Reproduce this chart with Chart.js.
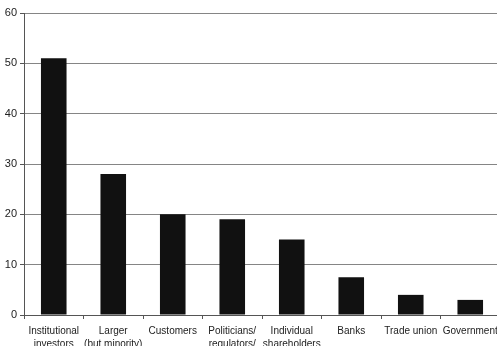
<!DOCTYPE html>
<html>
<head>
<meta charset="utf-8">
<script src="https://cdn.jsdelivr.net/npm/chart.js@4/dist/chart.umd.min.js"></script>
<style>
  html, body { margin: 0; padding: 0; background: #fff; overflow: hidden; }
  #wrap { width: 497px; height: 346px; overflow: hidden; }
</style>
</head>
<body>
<div id="wrap"><canvas id="chart" width="500" height="346"></canvas></div>
<script>
const categories = [
    ['Institutional', 'investors'],
    ['Larger', '(but minority)'],
    'Customers',
    ['Politicians/', 'regulators/'],
    ['Individual', 'shareholders'],
    'Banks',
    'Trade union',
    'Government'
];
const values = [51, 28, 20, 19, 15, 7.5, 4, 3];
const yTicks = [0, 10, 20, 30, 40, 50, 60];

const ctx = document.getElementById('chart').getContext('2d');

// canvas is 3px wider than the window so the last label gets cut like the original
const chart = new Chart(ctx, {
    type: 'bar',
    data: {
        labels: categories,
        datasets: [{
            data: values,
            backgroundColor: '#111111',
            borderWidth: 0,
            categoryPercentage: 1,
            barPercentage: 0.43
        }]
    },
    options: {
        responsive: false,
        animation: false,
        layout: { padding: { top: 13, right: 0, left: 0, bottom: 0 } },
        plugins: {
            legend: { display: false },
            tooltip: { enabled: false }
        },
        scales: {
            x: {
                offset: true,
                grid: {
                    offset: true,
                    drawOnChartArea: false,
                    drawTicks: true,
                    tickLength: 4,
                    tickColor: '#555'
                },
                border: { color: '#555', width: 1 },
                ticks: {
                    autoSkip: false,
                    maxRotation: 0,
                    minRotation: 0,
                    padding: 6,
                    color: '#222',
                    font: { family: 'Liberation Sans, Arial, sans-serif', size: 10, lineHeight: 1.3 }
                },
                afterFit: (scale) => {
                    scale.height = 31;
                    // no extra side padding for the label overflow
                    scale.paddingLeft = 0;
                    scale.paddingRight = 0;
                }
            },
            y: {
                min: 0,
                max: 60,
                afterBuildTicks: (scale) => {
                    scale.ticks = yTicks.map(v => ({ value: v }));
                },
                grid: {
                    color: '#858585',
                    lineWidth: 1,
                    drawTicks: true,
                    tickLength: 4,
                    tickColor: '#555'
                },
                border: { color: '#555', width: 1 },
                ticks: {
                    padding: 3,
                    color: '#222',
                    font: { family: 'Liberation Sans, Arial, sans-serif', size: 11 }
                },
                afterFit: (scale) => { scale.width = 24; }
            }
        }
    }
});
</script>
</body>
</html>
